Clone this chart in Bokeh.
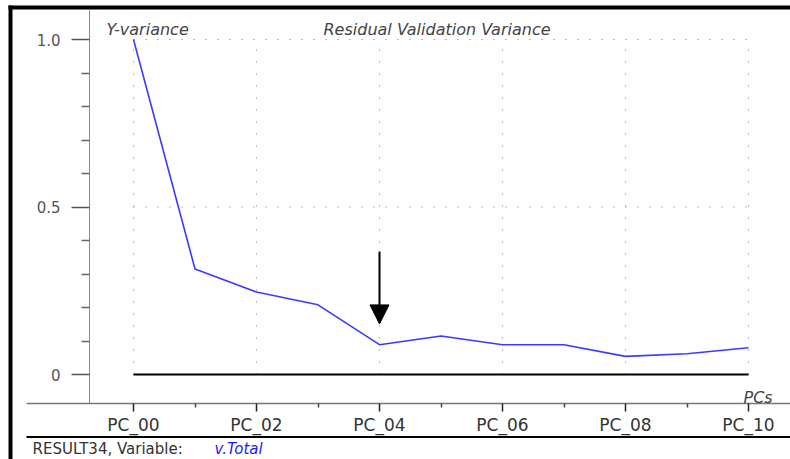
from bokeh.plotting import figure
from bokeh.models import (Range1d, LinearAxis, FixedTicker, Label, Arrow, NormalHead)
from bokeh.embed import file_html
from bokeh.resources import INLINE

# ---------------- data ----------------
pcs = list(range(11))
pc_labels = ["PC_%02d" % i for i in pcs]
y_variance = [1.0, 0.315, 0.246, 0.208, 0.089, 0.115, 0.089, 0.089, 0.054, 0.062, 0.080]
x_major = [0, 2, 4, 6, 8, 10]
x_minor = [1, 3, 5, 7, 9]
y_major = [0, 0.5, 1.0]
y_major_labels = ["0", "0.5", "1.0"]
y_minor = [0.1, 0.2, 0.3, 0.4, 0.6, 0.7, 0.8, 0.9]
chosen_pc = 4
title_left = "Y-variance"
title_main = "Residual Validation Variance"
x_name = "PCs"
footer_a = "RESULT34, Variable:"
footer_b = "v.Total"

# ---------------- layout helpers (pixel <-> data) ----------------
W, H = 790, 459
X0, XU = 133.0, 61.5    # pixel of PC_00, pixels per PC
Y0, YU = 374.0, 335.0   # pixel of y=0, pixels per unit

def dx(px):
    return (px - X0) / XU

def dy(py):
    return (Y0 - py) / YU

p = figure(width=W, height=H, output_backend="svg", toolbar_location=None,
           x_range=Range1d(dx(0), dx(W)), y_range=Range1d(dy(H), dy(0)),
           x_axis_type=None, y_axis_type=None, min_border=0,
           background_fill_color="white", border_fill_color="white")
p.outline_line_color = None
p.xgrid.visible = False
p.ygrid.visible = False

FONT = "DejaVu Sans"

# outer frame lines
p.segment(x0=[dx(8)], y0=[dy(7)], x1=[dx(W)], y1=[dy(7)], line_color="black", line_width=4)
p.segment(x0=[dx(10)], y0=[dy(5)], x1=[dx(10)], y1=[dy(H)], line_color="black", line_width=4)
# bottom separator line
p.segment(x0=[dx(26)], y0=[dy(436.5)], x1=[dx(W)], y1=[dy(436.5)], line_color="black", line_width=2)

# dotted grid
p.segment(x0=x_major, y0=[min(y_major)] * len(x_major), x1=x_major, y1=[max(y_major)] * len(x_major),
          line_color="#777777", line_width=1, line_dash="1 11")
gy = [v for v in y_major if v > 0]
p.segment(x0=[min(pcs)] * len(gy), y0=gy, x1=[max(pcs)] * len(gy), y1=gy,
          line_color="#777777", line_width=1, line_dash="1 11")

# zero line
p.line(x=[min(pcs), max(pcs)], y=[0, 0], line_color="black", line_width=2)

# data line
p.line(x=pcs, y=y_variance, line_color="#3a3aff", line_width=1.6)

# arrow pointing at chosen PC
p.add_layout(Arrow(end=NormalHead(size=19, fill_color="black", line_color="black"),
                   x_start=chosen_pc, y_start=y_variance[chosen_pc] + 0.278,
                   x_end=chosen_pc, y_end=y_variance[chosen_pc] + 0.062,
                   line_color="black", line_width=2))

# axes
xaxis = LinearAxis(fixed_location=dy(403), bounds=(dx(26), dx(W)),
                   ticker=FixedTicker(ticks=x_major, minor_ticks=x_minor),
                   major_label_overrides={v: pc_labels[v] for v in x_major})
xaxis.axis_line_color = "#777777"
xaxis.axis_line_width = 1.5
xaxis.major_tick_in = 0
xaxis.major_tick_out = 8
xaxis.major_tick_line_color = "#222222"
xaxis.major_tick_line_width = 1.5
xaxis.minor_tick_in = 0
xaxis.minor_tick_out = 4
xaxis.minor_tick_line_color = "#444444"
xaxis.minor_tick_line_width = 1.5
xaxis.major_label_standoff = 3
xaxis.major_label_text_font = FONT
xaxis.major_label_text_font_size = "17px"
xaxis.major_label_text_color = "#333333"
p.add_layout(xaxis, "below")

yaxis = LinearAxis(fixed_location=dx(89), bounds=(dy(403), dy(10)),
                   ticker=FixedTicker(ticks=y_major, minor_ticks=y_minor),
                   major_label_overrides={v: l for v, l in zip(y_major, y_major_labels)})
yaxis.axis_line_color = "#888888"
yaxis.axis_line_width = 1
yaxis.major_tick_in = 0
yaxis.major_tick_out = 18
yaxis.major_tick_line_color = "#555555"
yaxis.major_tick_line_width = 1.5
yaxis.minor_tick_in = 0
yaxis.minor_tick_out = 8
yaxis.minor_tick_line_color = "#666666"
yaxis.minor_tick_line_width = 1.5
yaxis.major_label_standoff = 11
yaxis.major_label_text_font = FONT
yaxis.major_label_text_font_size = "15px"
yaxis.major_label_text_color = "#555555"
p.add_layout(yaxis, "left")

# texts
def add_label(text, px, py, size, color="#444444", style="normal", baseline="alphabetic"):
    p.add_layout(Label(x=dx(px), y=dy(py), text=text, text_font=FONT, text_font_size=size,
                       text_color=color, text_font_style=style,
                       text_align="left", text_baseline=baseline))

add_label(title_left, 106, 29, "16px", "#444444", "italic")
add_label(title_main, 323, 29, "16px", "#444444", "italic")
add_label(x_name, 743, 396.5, "16px", "#444444", "italic")
add_label(footer_a, 32, 457, "15px", "#333333", baseline="bottom")
add_label(footer_b, 214, 457, "15px", "#1a1aff", "italic", baseline="bottom")

open("out.html", "w").write(file_html(p, INLINE))
